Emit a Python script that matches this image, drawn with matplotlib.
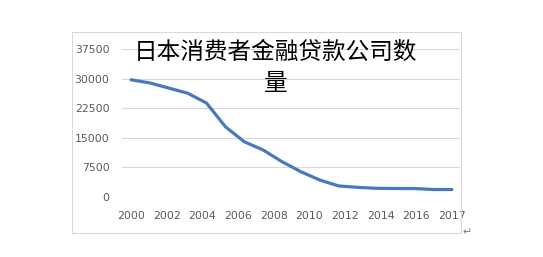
import matplotlib.pyplot as plt
import numpy as np
from matplotlib.patches import Rectangle

plt.rcParams['font.family'] = ['Noto Sans CJK SC', 'DejaVu Sans']

# data
years = np.arange(2000, 2018)
companies = [29700, 28900, 27600, 26300, 23800, 17800, 14000, 11900, 8950,
             6400, 4300, 2800, 2450, 2200, 2150, 2150, 1900, 1900]
tick_labels = ["2000", "2002", "2004", "2006", "2008", "2010",
               "2012", "2014", "2016", "2017"]
y_ticks = [0, 7500, 15000, 22500, 30000, 37500]
title = "日本消费者金融贷款公司数\n量"

W, H = 543, 257
fig = plt.figure(figsize=(W / 100, H / 100), dpi=100)

# chart frame
fig.patches.append(Rectangle((72 / W, 1 - 233 / H), (461 - 72) / W, (233 - 32) / H,
                             transform=fig.transFigure, fill=False,
                             edgecolor="#d9d9d9", linewidth=0.8))

ax = fig.add_axes([122 / W, 1 - 197 / H, (460 - 122) / W, 148 / H])
ax.plot(years, companies, color="#4a78c0", linewidth=2.3, solid_capstyle="round")

ax.set_xlim(1999.52, 2017.43)
ax.set_ylim(0, 37500)
ax.set_yticks(y_ticks)
ax.set_yticklabels([str(v) for v in y_ticks])
ax.set_xticks(np.linspace(years[0], years[-1], len(tick_labels)))
ax.set_xticklabels(tick_labels)
ax.grid(axis="y", color="#d9d9d9", linewidth=0.8)
ax.set_axisbelow(True)
for s in ax.spines.values():
    s.set_visible(False)
ax.tick_params(axis="both", length=0, labelsize=7.8, labelcolor="#595959")
ax.tick_params(axis="y", pad=9)
ax.tick_params(axis="x", pad=10)
for lbl in ax.get_xticklabels() + ax.get_yticklabels():
    lbl.set_family("DejaVu Sans")

fig.text(276 / W, 1 - 68 / H, title, ha="center", va="center",
         fontsize=17, color="black", linespacing=1.45, weight="medium")
fig.text(467 / W, 1 - 232 / H, "↵", ha="center", va="center",
         fontsize=8, color="#808080", family="DejaVu Sans")

fig.savefig("out.png", dpi=100)
